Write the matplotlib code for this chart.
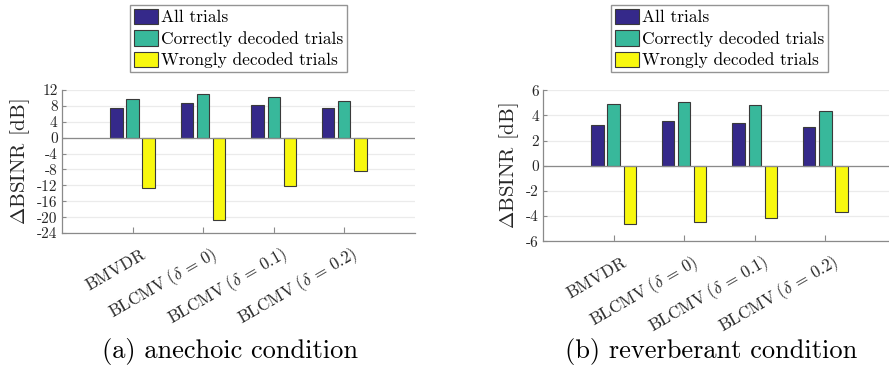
import numpy as np
import matplotlib
matplotlib.use('Agg')
import matplotlib.pyplot as plt
import matplotlib.transforms as mtransforms
from matplotlib.patches import Patch

plt.rcParams['font.family'] = ['cmr10', 'DejaVu Serif']
plt.rcParams['mathtext.fontset'] = 'cm'
plt.rcParams['axes.unicode_minus'] = False
plt.rcParams['axes.formatter.use_mathtext'] = True

# beamformers on the x axis
methods = [r'$\mathrm{BMVDR}$', r'$\mathrm{BLCMV}\ (\delta\,=\,0)$',
           r'$\mathrm{BLCMV}\ (\delta\,=\,0.1)$', r'$\mathrm{BLCMV}\ (\delta\,=\,0.2)$']
series = ['All trials', 'Correctly decoded trials', 'Wrongly decoded trials']

# delta BSINR in dB, anechoic
anechoic_all = [7.4, 8.6, 8.25, 7.5]
anechoic_correct = [9.75, 10.85, 10.25, 9.15]
anechoic_wrong = [-12.7, -20.6, -12.2, -8.45]

# delta BSINR in dB, reverberant
reverb_all = [3.25, 3.55, 3.4, 3.1]
reverb_correct = [4.9, 5.08, 4.8, 4.38]
reverb_wrong = [-4.62, -4.46, -4.17, -3.67]

colors = ['#35298a', '#38b89b', '#f8f80e']
edge = '#3a3a3a'
bar_w = 0.175
step = 0.228

fig = plt.figure(figsize=(8.89, 3.67), dpi=100)
ax1 = fig.add_axes([0.0697, 0.365, 0.397, 0.390])
ax2 = fig.add_axes([0.6108, 0.3425, 0.397, 0.4114])


def draw(ax, vals, yticks, ylim, lab_x):
    x = np.arange(1, len(methods) + 1)
    for i, v in enumerate(vals):
        ax.bar(x + (i - 1) * step, v, width=bar_w, color=colors[i],
               edgecolor=edge, linewidth=0.8, zorder=3)
    ax.axhline(0, color='#8a8a8a', linewidth=0.9, zorder=4)
    ax.set_xlim(0, 5)
    ax.set_ylim(*ylim)
    ax.set_yticks(yticks)
    ax.set_yticklabels([f'{t:d}' for t in yticks], fontsize=11)
    ax.tick_params(axis='x', direction='in', length=4, color='#8a8a8a',
                   labelcolor='#262626', pad=0)
    ax.tick_params(axis='y', direction='in', length=3, color='#8a8a8a',
                   labelcolor='#262626', pad=3)
    ax.set_xticks(x)
    ax.set_xticklabels(methods, fontsize=12.2, rotation=30, ha='right',
                       rotation_mode='anchor', va='center')
    # shift the slanted labels down and right of their ticks
    off = mtransforms.ScaledTranslation(12 / 100, -20 / 100, fig.dpi_scale_trans)
    for lbl in ax.get_xticklabels():
        lbl.set_transform(lbl.get_transform() + off)
    ax.yaxis.grid(True, color='#ebebeb', linewidth=0.9, zorder=0)
    ax.set_axisbelow(True)
    for s in ['top', 'right']:
        ax.spines[s].set_visible(False)
    for s in ['left', 'bottom']:
        ax.spines[s].set_color('#8a8a8a')
        ax.spines[s].set_linewidth(0.9)
    ax.set_ylabel(r'$\Delta$BSINR [dB]', fontsize=15, color='#262626')
    ax.yaxis.set_label_coords(lab_x, 0.5)


draw(ax1, [anechoic_all, anechoic_correct, anechoic_wrong],
     list(range(-24, 13, 4)), (-24, 12), -0.085)
draw(ax2, [reverb_all, reverb_correct, reverb_wrong],
     list(range(-6, 7, 2)), (-6, 6), -0.062)

handles = [Patch(facecolor=c, edgecolor=edge, linewidth=0.8) for c in colors]
for cx in [0.268, 0.809]:
    fig.legend(handles, series, loc='upper center', bbox_to_anchor=(cx, 0.987),
               fontsize=12.5, frameon=True, fancybox=False, edgecolor='#7a7a7a',
               handlelength=1.4, handleheight=1.0, handletextpad=0.15,
               labelspacing=0.28, borderpad=0.22, borderaxespad=0)

fig.text(0.259, 0.025, '(a) anechoic condition', fontsize=19, ha='center', va='baseline')
fig.text(0.80, 0.025, '(b) reverberant condition', fontsize=19, ha='center', va='baseline')

fig.savefig('out.png', dpi=100)
